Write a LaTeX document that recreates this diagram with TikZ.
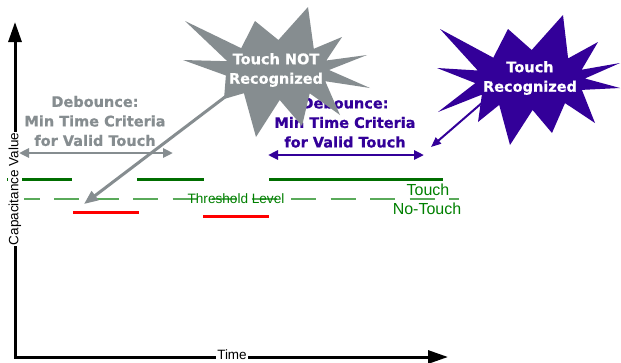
\documentclass[tikz,border=0pt]{standalone}
\usepackage{fontspec}
\newfontfamily\arialf{Liberation Sans}
\newfontfamily\verdf{DejaVu Sans}[BoldFeatures={FakeBold=0.8}]
\usetikzlibrary{arrows.meta}
\definecolor{grayc}{RGB}{134,141,144}
\definecolor{purp}{RGB}{51,0,153}
\definecolor{dgreen}{RGB}{0,110,0}
\definecolor{tgreen}{RGB}{0,128,0}
\definecolor{lgreen}{RGB}{90,170,90}
\definecolor{redc}{RGB}{255,0,0}
\begin{document}
\begin{tikzpicture}[x=1pt,y=-1pt,
  axisline/.style={line width=3pt,{Triangle[length=20pt,width=13pt]}-{Triangle[length=20pt,width=13pt]}},
  axislabel/.style={fill=white,inner sep=1pt,font=\arialf\fontsize{13.5}{16}\selectfont},
  touchline/.style={dgreen,line width=3.5pt},
  notouchline/.style={redc,line width=3.5pt},
  threshline/.style={lgreen,line width=2.2pt,dash pattern=on 25pt off 14.5pt,dash phase=9.5pt},
  greenlabel/.style={text=tgreen,inner sep=0pt,font=\arialf\fontsize{16}{19}\selectfont},
  debtext/.style={align=center,inner sep=0pt,font=\verdf\bfseries\fontsize{14.5}{19.5}\selectfont},
  bursttext/.style={align=center,text=white,inner sep=0pt,font=\verdf\bfseries\fontsize{14.5}{19.5}\selectfont},
  grayspan/.style={grayc,line width=2.5pt,{Triangle[length=10pt,width=9pt]}-{Triangle[length=10pt,width=9pt]}},
  purpspan/.style={purp,line width=2.5pt,{Triangle[length=10pt,width=9pt]}-{Triangle[length=10pt,width=9pt]}},
  graypointer/.style={grayc,line width=3pt,-{Triangle[length=14pt,width=11pt]}},
  purppointer/.style={purp,line width=2pt,-{Triangle[length=10pt,width=8pt]}}]
\useasboundingbox[fill=white] (0,0) rectangle (621,362);

% signal levels
\draw[threshline] (24,199.3) -- (459,199.3);
\draw[touchline] (7,179.5) -- (72,179.5);
\draw[touchline] (137,179.5) -- (204,179.5);
\draw[touchline] (269,179.5) -- (443,179.5);
\draw[notouchline] (73,212.7) -- (139,212.7);
\draw[notouchline] (203,216.7) -- (269,216.7);
\node[greenlabel,font=\arialf\fontsize{13.6}{16}\selectfont] (thr) at (236,199) {Threshold Level};
\node[greenlabel] (tch) at (428,190) {Touch};
\node[greenlabel] (ntch) at (427,209) {No-Touch};

% axes
\coordinate (o) at (15,357);
\coordinate (ytip) at (15,22);
\coordinate (xtip) at (448,357);
\draw[axisline] (ytip) -- (o) -- (xtip);
\node[axislabel] (time) at (232,354.5) {Time};
\node[axislabel,rotate=90] (cap) at (15,189) {Capacitance Value};

% debounce texts and spans
\node[debtext,text=grayc] (gdeb) at (95,121) {Debounce:\\Min Time Criteria\\for Valid Touch};
\node[debtext,text=purp] (pdeb) at (345,122.5) {Debounce:\\Min Time Criteria\\for Valid Touch};
\coordinate (g1) at (19,153);
\coordinate (g2) at (173,153);
\draw[grayspan] (g1) -- (g2);
\coordinate (p1) at (268,155);
\coordinate (p2) at (424,155);
\draw[purpspan] (p1) -- (p2);

% pointers
\coordinate (gs) at (250,78);
\coordinate (gt) at (84,204);
\draw[graypointer] (gs) -- (gt);
\coordinate (ps) at (495,91.6);
\coordinate (pt) at (431,147);
\draw[purppointer] (ps) -- (pt);

% gray starburst
\fill[grayc] (367,55) -- (329,70) -- (370,88) -- (325.2,81.2) -- (340,115) -- (309.7,93.3)
  -- (302,126) -- (279.7,100) -- (256,137) -- (243.9,93.2) -- (224,99) -- (225.9,75.5)
  -- (183,60) -- (227.3,61.2) -- (185,21) -- (241.2,48.2) -- (255,21) -- (278.4,40)
  -- (308,7) -- (313.8,48.8) -- (342,37) -- (326.3,60.5) -- cycle;
\node[bursttext] (notrec) at (276,70) {Touch NOT\\Recognized};

% purple starburst
\fill[purp] (620,63) -- (584.9,78.5) -- (620,88) -- (581.9,89.9) -- (595,123) -- (565,103.1)
  -- (552,133) -- (532.6,110) -- (510,145) -- (499.2,104.9) -- (478,122) -- (481.9,94.6)
  -- (438,112) -- (475.3,83.1) -- (437,68) -- (477.8,70.5) -- (440,29) -- (493.3,57.7)
  -- (508,29) -- (531.7,50) -- (563,15) -- (568.1,58.4) -- (598,42) -- (581.7,69.7) -- cycle;
\node[bursttext] (rec) at (530,78) {Touch\\Recognized};
\end{tikzpicture}
\end{document}
